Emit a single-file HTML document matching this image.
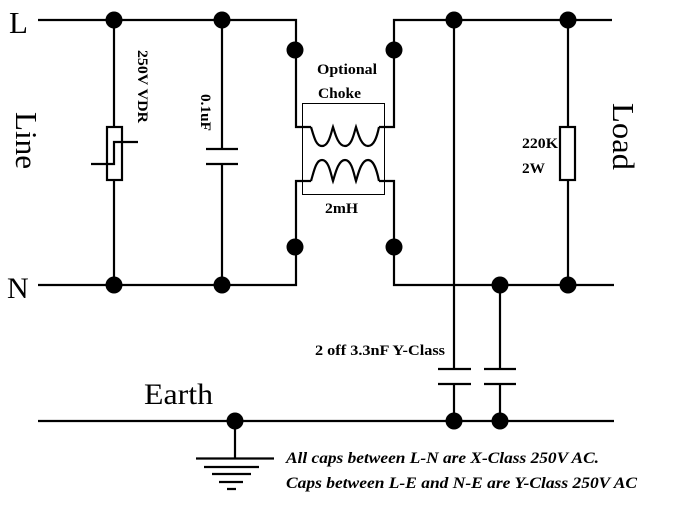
<!DOCTYPE html>
<html>
<head>
<meta charset="utf-8">
<style>
html,body{margin:0;padding:0;background:#fff;width:682px;height:526px;overflow:hidden}
svg{display:block}
text{font-family:"Liberation Serif",serif;fill:#000}
.b{font-weight:bold;font-size:14.5px}
.i{font-weight:bold;font-style:italic;font-size:16px}
</style>
</head>
<body>
<svg width="682" height="526" viewBox="0 0 682 526" xmlns="http://www.w3.org/2000/svg">
<g fill="none" stroke="#000" stroke-width="2.2">
<!-- Top line -->
<path d="M38 20H296V127H311"/>
<path d="M612 20H394V127H379"/>
<!-- Bottom line -->
<path d="M38 285H296V181H311"/>
<path d="M614 285H394V181H379"/>
<!-- Earth -->
<path d="M38 421H614"/>
<!-- VDR -->
<path d="M114 20V127M114 180V285"/>
<rect x="107" y="127" width="15" height="53"/>
<path d="M91 164H114V142H138"/>
<!-- 0.1uF -->
<path d="M222 20V149M222 164V285M206 149H238M206 164H238"/>
<!-- Resistor -->
<path d="M568 20V127M568 180V285"/>
<rect x="560" y="127" width="15" height="53"/>
<!-- Y caps -->
<path d="M454 20V369M454 384V421M438 369H471M438 384H471"/>
<path d="M500 285V369M500 384V421M484 369H516M484 384H516"/>
<!-- Choke -->
<rect x="302.5" y="103.5" width="82" height="91" stroke-width="1"/>
<path d="M311 127C314 137 316 146 322 146C329 146 331 133 333 127C335 133 338 146 345 146C352 146 354 133 356 127C358 133 361 146 368 146C374 146 377 137 379 127"/>
<path d="M311 181C314 171 316 160 322 160C329 160 331 175 333 181C335 175 338 160 345 160C352 160 354 175 356 181C358 175 361 160 368 160C374 160 377 171 379 181"/>
<!-- Ground -->
<path d="M235 421V458M196 458.5H274M204 467H259M212 474H251M219 482H243M227 489H236"/>
</g>
<g fill="#000">
<circle cx="114" cy="20" r="8.5"/>
<circle cx="222" cy="20" r="8.5"/>
<circle cx="295" cy="50" r="8.5"/>
<circle cx="394" cy="50" r="8.5"/>
<circle cx="454" cy="20" r="8.5"/>
<circle cx="568" cy="20" r="8.5"/>
<circle cx="295" cy="247" r="8.5"/>
<circle cx="394" cy="247" r="8.5"/>
<circle cx="114" cy="285" r="8.5"/>
<circle cx="222" cy="285" r="8.5"/>
<circle cx="500" cy="285" r="8.5"/>
<circle cx="568" cy="285" r="8.5"/>
<circle cx="235" cy="421" r="8.5"/>
<circle cx="454" cy="421" r="8.5"/>
<circle cx="500" cy="421" r="8.5"/>
</g>
<text x="9" y="33" font-size="31">L</text>
<text x="7" y="298" font-size="30">N</text>
<text x="144" y="404" font-size="30" textLength="69" lengthAdjust="spacingAndGlyphs">Earth</text>
<text font-size="31" transform="translate(16,112) rotate(90)" textLength="57" lengthAdjust="spacingAndGlyphs">Line</text>
<text font-size="31" transform="translate(613,103) rotate(90)" textLength="67" lengthAdjust="spacingAndGlyphs">Load</text>
<text class="b" transform="translate(138,50) rotate(90)" textLength="73" lengthAdjust="spacingAndGlyphs">250V VDR</text>
<text class="b" transform="translate(201,94) rotate(90)" textLength="37" lengthAdjust="spacingAndGlyphs">0.1uF</text>
<text class="b" x="317" y="74" textLength="60" lengthAdjust="spacingAndGlyphs">Optional</text>
<text class="b" x="318" y="98" textLength="43" lengthAdjust="spacingAndGlyphs">Choke</text>
<text class="b" x="325" y="213" textLength="33" lengthAdjust="spacingAndGlyphs">2mH</text>
<text class="b" x="522" y="148" textLength="36" lengthAdjust="spacingAndGlyphs">220K</text>
<text class="b" x="522" y="173" textLength="23" lengthAdjust="spacingAndGlyphs">2W</text>
<text class="b" x="315" y="355" textLength="130" lengthAdjust="spacingAndGlyphs">2 off 3.3nF Y-Class</text>
<text class="i" x="286" y="463" textLength="313" lengthAdjust="spacingAndGlyphs">All caps between L-N are X-Class 250V AC.</text>
<text class="i" x="286" y="488" textLength="351" lengthAdjust="spacingAndGlyphs">Caps between L-E and N-E are Y-Class 250V AC</text>
</svg>
</body>
</html>
